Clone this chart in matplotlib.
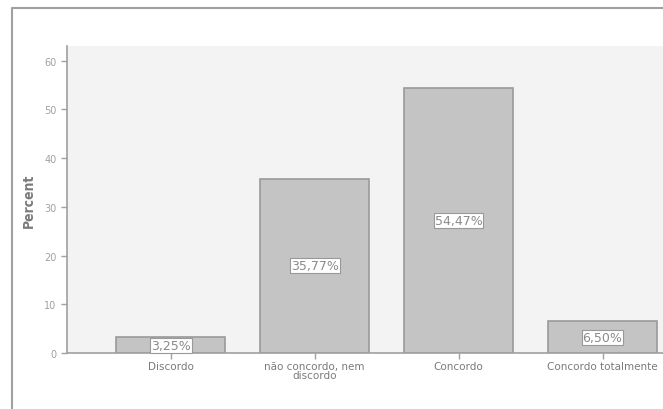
import matplotlib
matplotlib.use("Agg")
import matplotlib.pyplot as plt
from matplotlib.lines import Line2D

categories = ["Discordo", "não concordo, nem\ndiscordo", "Concordo", "Concordo totalmente"]
percent = [3.25, 35.77, 54.47, 6.50]
labels = ["3,25%", "35,77%", "54,47%", "6,50%"]

plt.rcParams["font.family"] = ["DejaVu Sans"]

fig = plt.figure(figsize=(6.63, 4.10), dpi=100)
fig.patch.set_facecolor("white")

# outer frame (left and top lines only)
fx = 12 / 663
fy = 1 - 9 / 410
fig.add_artist(Line2D([fx, fx, 1], [0, fy, fy], transform=fig.transFigure,
                      color="#a0a0a0", lw=1.5))

ax = fig.add_axes([67 / 663, 56 / 410, 1 - 67 / 663, (354 - 47) / 410])
ax.set_facecolor("#f3f3f3")

x = range(len(categories))
ax.bar(x, percent, width=0.755, color="#c4c4c4", edgecolor="#9a9a9a", linewidth=1.2, zorder=2)

for i, (v, t) in enumerate(zip(percent, labels)):
    ax.text(i, v / 2, t, ha="center", va="center", fontsize=9, color="#8a8a8a", zorder=3,
            bbox=dict(boxstyle="square,pad=0.08", fc="white", ec="#999999", lw=0.8))

ax.set_xlim(-0.72, 3.42)
ax.set_ylim(0, 63)
ax.set_yticks([0, 10, 20, 30, 40, 50, 60])
ax.set_xticks(list(x))
ax.set_xticklabels(categories, fontsize=7.5, color="#7a7a7a", linespacing=0.85)
ax.tick_params(axis="y", labelsize=7, labelcolor="#a0a0a0", color="#a0a0a0", length=4, width=1)
ax.tick_params(axis="x", color="#a0a0a0", length=4, width=1, pad=2)

for s in ["top", "right"]:
    ax.spines[s].set_visible(False)
for s in ["left", "bottom"]:
    ax.spines[s].set_color("#a0a0a0")
    ax.spines[s].set_linewidth(1.2)

ax.set_ylabel("Percent", fontsize=10, fontweight="bold", color="#7a7a7a", labelpad=6,
              fontstretch="condensed")

fig.savefig("out.png", dpi=100)
